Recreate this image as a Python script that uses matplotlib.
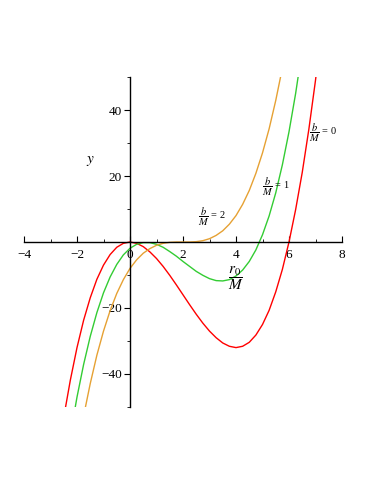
import matplotlib
matplotlib.use("Agg")
import matplotlib.pyplot as plt
from matplotlib.ticker import MultipleLocator

plt.rcParams["font.family"] = ["Liberation Serif", "DejaVu Serif"]
plt.rcParams["mathtext.fontset"] = "stix"

# curve values (x in r0/M, y)
x_red = [-2.5, -2.25, -2, -1.75, -1.5, -1.25, -1, -0.75, -0.5, -0.25, 0, 0.25, 0.5, 0.75,
         1, 1.25, 1.5, 1.75, 2, 2.25, 2.5, 2.75, 3, 3.25, 3.5, 3.75, 4, 4.25, 4.5, 4.75,
         5, 5.25, 5.5, 5.75, 6, 6.25, 6.5, 6.75, 7, 7.25]
y_red = [-53.1, -41.8, -32, -23.7, -16.9, -11.3, -7, -3.8, -1.6, -0.4, 0, -0.4, -1.4, -3.0,
         -5, -7.4, -10.1, -13.0, -16, -19.0, -21.9, -24.6, -27, -29.0, -30.6, -31.6, -32, -31.6, -30.4, -28.2,
         -25, -20.7, -15.1, -8.3, 0, 9.8, 21.1, 34.2, 49, 65.7]

x_green = [-2.25, -2, -1.75, -1.5, -1.25, -1, -0.75, -0.5, -0.25, 0, 0.25, 0.5, 0.75,
           1, 1.25, 1.5, 1.75, 2, 2.25, 2.5, 2.75, 3, 3.25, 3.5, 3.75, 4, 4.25, 4.5, 4.75,
           5, 5.25, 5.5, 5.75, 6, 6.25, 6.5]
y_green = [-58.5, -47.0, -37.1, -28.6, -21.4, -15.4, -10.6, -6.8, -3.9, -1.9, -0.7, -0.2, -0.2,
           -0.7, -1.6, -2.9, -4.3, -5.9, -7.4, -8.9, -10.1, -11.1, -11.7, -11.8, -11.4, -10.3, -8.5, -5.9, -2.4,
           2.2, 7.9, 14.9, 23.4, 33.4, 45.0, 58.4]

x_orange = [-1.75, -1.5, -1.25, -1, -0.75, -0.5, -0.25, 0, 0.25, 0.5, 0.75, 1, 1.25, 1.5, 1.75,
            2, 2.25, 2.5, 2.75, 3, 3.25, 3.5, 3.75, 4, 4.25, 4.5, 4.75, 5, 5.25, 5.5, 5.75]
y_orange = [-52.7, -42.9, -34.3, -27, -20.8, -15.6, -11.4, -8, -5.4, -3.4, -2.0, -1, -0.4, -0.1, 0.0,
            0, 0.0, 0.1, 0.4, 1, 2.0, 3.4, 5.4, 8, 11.4, 15.6, 20.8, 27, 34.3, 42.9, 52.7]

fig = plt.figure(figsize=(3.74, 4.84), dpi=100)
ax = fig.add_axes([24 / 374, 77 / 484, 318 / 374, 330 / 484])

ax.plot(x_red, y_red, color="#ff0000", lw=1.0)
ax.plot(x_green, y_green, color="#33cc33", lw=1.0)
ax.plot(x_orange, y_orange, color="#e6a133", lw=1.0)

ax.set_xlim(-4, 8)
ax.set_ylim(-50, 50)

ax.spines["left"].set_position(("data", 0))
ax.spines["bottom"].set_position(("data", 0))
ax.spines["top"].set_visible(False)
ax.spines["right"].set_visible(False)
for s in ("left", "bottom"):
    ax.spines[s].set_linewidth(1.0)

ax.set_xticks([-4, -2, 0, 2, 4, 6, 8])
ax.set_xticklabels(["\u22124", "\u22122", "0", "2", "4", "6", "8"])
ax.xaxis.set_minor_locator(MultipleLocator(1))
ax.set_yticks([-40, -20, 20, 40])
ax.set_yticklabels(["\u221240", "\u221220", "20", "40"])
ax.yaxis.set_minor_locator(MultipleLocator(10))

ax.tick_params(axis="x", which="major", direction="in", length=4, labelsize=9.5, pad=5)
ax.tick_params(axis="x", which="minor", direction="in", length=2)
ax.tick_params(axis="y", which="major", direction="out", length=4, labelsize=9.5, pad=2)
ax.tick_params(axis="y", which="minor", direction="out", length=2)

ax.text(-1.5, 24.5, "$y$", fontsize=11, ha="center", va="center")
ax.text(4.0, -11, r"$\dfrac{r_0}{M}$", fontsize=11, ha="center", va="center")
ax.text(6.75, 33, r"$\dfrac{b}{M}$ = 0", fontsize=7.5, ha="left", va="center")
ax.text(5.0, 16.7, r"$\dfrac{b}{M}$ = 1", fontsize=7.5, ha="left", va="center")
ax.text(2.55, 7.6, r"$\dfrac{b}{M}$ = 2", fontsize=7.5, ha="left", va="center")

fig.savefig("out.png", dpi=100)
